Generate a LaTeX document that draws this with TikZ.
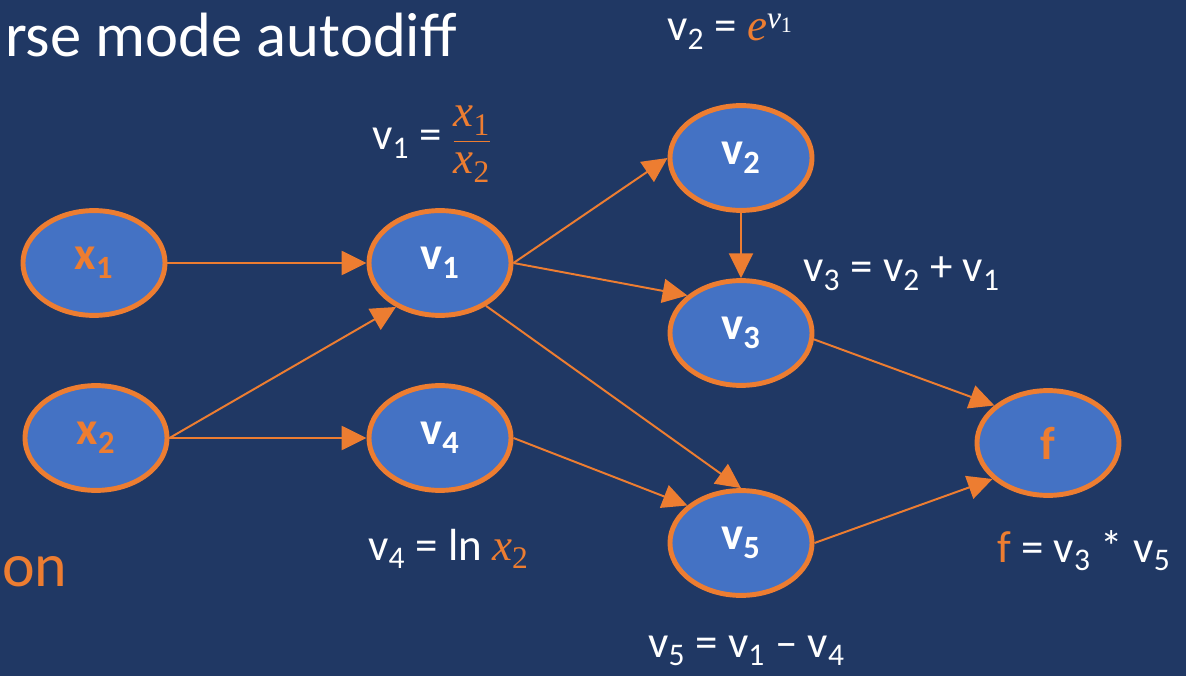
\documentclass[tikz,border=0pt]{standalone}
\usepackage{fontspec}
\setmainfont{Carlito}
\newfontfamily\cambria{Liberation Serif}
\usepackage{amsmath}
\usepackage{tikz}
\usetikzlibrary{shapes.geometric,arrows.meta,positioning}
\definecolor{bgblue}{HTML}{203864}
\definecolor{nodefill}{HTML}{4472C4}
\definecolor{accent}{HTML}{ED7D31}
% italic variable with subscript, in the serif face
\newcommand{\mvar}[2]{{\cambria\itshape #1\/\textsubscript{\upshape #2}}}

\begin{document}
\begin{tikzpicture}[
    x=0.025cm, y=-0.025cm,
    vnode/.style={ellipse, draw=accent, fill=nodefill, line width=3.5pt, minimum width=3.55cm, minimum height=2.62cm, inner sep=0pt, text=white, font=\fontsize{33}{36}\selectfont\bfseries},
    innode/.style={vnode, text=accent},
    lbl/.style={anchor=base west, inner sep=0pt, text=white, font=\fontsize{32}{36}\selectfont},
    arrow/.style={-{Triangle[length=6.2mm, width=6mm]}, line width=1.4pt, draw=accent, color=accent}
]
\fill[bgblue] (0,0) rectangle (1186,676);
\useasboundingbox (0,0) rectangle (1186,676);

\node[anchor=base east, inner sep=0pt, text=white, font=\fontsize{44.5}{50}\selectfont] (title) at (457,57) {rse mode autodiff};
\node[anchor=base west, inner sep=0pt, text=accent, font=\fontsize{44}{50}\selectfont] (tail) at (2,586) {on};

% inputs
\node[innode] (x1) at (94,263) {x\textsubscript{1}};
\node[innode] (x2) at (96,438) {x\textsubscript{2}};

% intermediate values
\node[vnode] (v1) at (440,263) {v\textsubscript{1}};
\node[vnode] (v4) at (440,438) {v\textsubscript{4}};
\node[vnode] (v2) at (741,158) {v\textsubscript{2}};
\node[vnode] (v3) at (741,333) {v\textsubscript{3}};
\node[vnode] (v5) at (741,543) {v\textsubscript{5}};

% output
\node[innode] (f) at (1048,443) {f};

\draw[arrow] (x1.east) -- (v1.west);
\draw[arrow] (x2.east) -- (v1.225);
\draw[arrow] (x2.east) -- (v4.west);
\draw[arrow] (v1.east) -- (v2.west);
\draw[arrow] (v1.east) -- (v3.145);
\draw[arrow] (v1.-43) -- (v5.north);
\draw[arrow] (v2.south) -- (v3.north);
\draw[arrow] (v4.east) -- (v5.145);
\draw[arrow] (v3.-5) -- (f.145);
\draw[arrow] (v5.east) -- (f.213);

% labels
\node[lbl] (l1) at (372,150) {v\textsubscript{1} = {\color{accent}$\dfrac{\text{\mvar{x}{1}}}{\text{\mvar{x}{2}}}$}};
\node[lbl] (l2) at (667,41) {v\textsubscript{2} = {\cambria\itshape\color{accent}e}\textsuperscript{\mvar{v}{1}}};
\node[lbl] (l3) at (803,282) {v\textsubscript{3} = v\textsubscript{2} + v\textsubscript{1}};
\node[lbl] (l4) at (368,560) {v\textsubscript{4} = ln {\color{accent}\mvar{x}{2}}};
\node[lbl] (l5) at (648,657) {v\textsubscript{5} = v\textsubscript{1} -- v\textsubscript{4}};
\node[lbl] (lf) at (997,562) {{\color{accent}f} = v\textsubscript{3} * v\textsubscript{5}};

\end{tikzpicture}
\end{document}
